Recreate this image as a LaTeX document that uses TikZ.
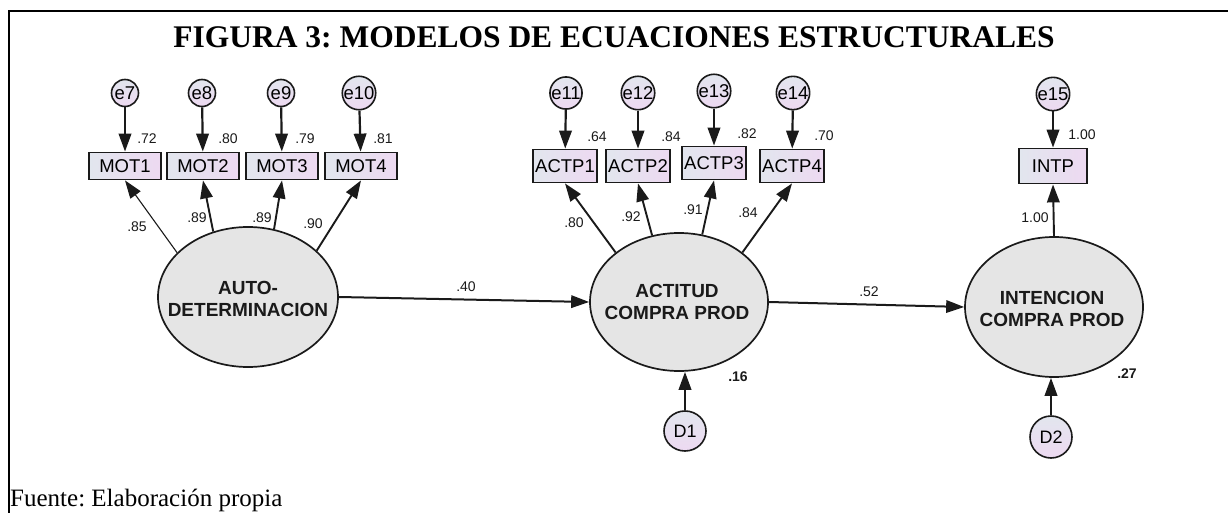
\documentclass[tikz,border=0pt]{standalone}
\usepackage{fontspec}
\setmainfont{Liberation Serif}
\setsansfont{Liberation Sans}
\usetikzlibrary{arrows.meta,shapes.geometric}
\frenchspacing
\definecolor{boxL}{HTML}{E2E6EE}
\definecolor{boxR}{HTML}{EDD9F1}
\definecolor{latC}{HTML}{E5E5E5}
\definecolor{ink}{HTML}{1A1A1A}
\tikzset{
  obs/.style={rectangle, draw=ink, line width=1.8pt, left color=boxL, right color=boxR,
    minimum width=72pt, minimum height=27pt, inner sep=0pt,
    font=\sffamily\fontsize{18.5}{18.5}\selectfont},
  aobs/.style={obs, minimum width=64pt, minimum height=33pt},
  err/.style={circle, draw=ink, line width=1.6pt, top color=boxL, bottom color=boxR,
    minimum size=27pt, inner sep=0pt, font=\sffamily\fontsize{18.5}{18.5}\selectfont},
  dist/.style={ellipse, draw=ink, line width=1.6pt, top color=boxL, bottom color=boxR,
    minimum width=42pt, minimum height=40pt, inner sep=0pt, font=\sffamily\fontsize{18}{18}\selectfont},
  lat/.style={ellipse, draw=ink, line width=1.7pt, fill=latC,
    minimum width=180pt, minimum height=140pt, inner sep=0pt},
  lattext/.style={inner sep=0pt, align=center, text=ink,
    font=\sffamily\bfseries\fontsize{19}{22}\selectfont},
  num/.style={inner sep=0pt, text=ink, font=\sffamily\fontsize{14}{14}\selectfont},
  bnum/.style={num, font=\sffamily\bfseries\fontsize{14}{14}\selectfont},
  tip/.style={-{Triangle[length=18pt,width=12.5pt]}},
  earrow/.style={tip, draw=ink, line width=2.2pt},
  load/.style={tip, draw=ink, line width=1.9pt},
  thinload/.style={tip, draw=ink, line width=1.1pt},
  path/.style={tip, draw=ink, line width=2pt},
}
\begin{document}
\begin{tikzpicture}[x=1pt,y=-1pt]
\useasboundingbox (0,0) rectangle (1228,513);
\draw[line width=2pt] (9,513) -- (9,11) -- (1228,11);
\node[anchor=base, font=\bfseries\fontsize{31.5}{31.5}\selectfont] (title) at (614,48) {FIGURA 3: MODELOS DE ECUACIONES ESTRUCTURALES};
\node[anchor=base west, inner sep=0pt, font=\fontsize{25}{25}\selectfont] (src) at (10,506) {Fuente: Elaboración propia};

% latent variables
\node[lat] (auto) at (248,297) {};
\node[lattext] (autoT) at (248,299) {AUTO-\\DETERMINACION};
\node[lat, minimum width=178pt, minimum height=138pt] (act) at (679,302) {};
\node[lattext] (actT) at (677,302) {ACTITUD\\COMPRA PROD};
\node[lat, minimum width=178pt, minimum height=140pt] (int) at (1054,307) {};
\node[lattext] (intT) at (1052,309) {INTENCION\\COMPRA PROD};

% observed
\node[obs] (mot1) at (125,166) {MOT1};
\node[obs] (mot2) at (203,166) {MOT2};
\node[obs] (mot3) at (282,166) {MOT3};
\node[obs] (mot4) at (361,166) {MOT4};
\node[aobs] (actp1) at (565,166) {ACTP1};
\node[aobs] (actp2) at (638,166) {ACTP2};
\node[aobs] (actp3) at (714,163) {ACTP3};
\node[aobs] (actp4) at (792,166) {ACTP4};
\node[obs, minimum width=68pt, minimum height=35pt] (intp) at (1053,166) {INTP};

% errors
\node[err] (e7) at (125,93) {e7};
\node[err] (e8) at (202,93) {e8};
\node[err] (e9) at (281,93) {e9};
\node[err] (e10) at (359,93) {e10};
\node[err] (e11) at (566,93) {e11};
\node[err] (e12) at (638,93) {e12};
\node[err] (e13) at (714,91) {e13};
\node[err] (e14) at (793,93) {e14};
\node[err] (e15) at (1053,94) {e15};
\node[dist] (d1) at (685,431) {D1};
\node[dist, minimum height=42pt] (d2) at (1051,437) {D2};

% error arrows
\foreach \e/\o in {e7/mot1,e8/mot2,e9/mot3,e10/mot4,e11/actp1,e12/actp2,e13/actp3,e14/actp4,e15/intp}
  \draw[earrow] (\e) -- (\o);

% loadings
\draw[thinload] (auto.148) -- (mot1.south);
\draw[load] (auto.118) -- (mot2.south);
\draw[load] (auto.69) -- (mot3.south);
\draw[load] (auto.34) -- (mot4.south);
\draw[load] (act.142) -- (actp1.south);
\draw[load] (act.112) -- (actp2.south);
\draw[load] (act.71) -- (actp3.south);
\draw[load] (act.38) -- (actp4.south);
\draw[load] (int.north) -- (intp.south);

% structural paths
\draw[path] (auto.east) -- (act.west);
\draw[path] (act.east) -- (int.west);
\draw[earrow] (d1.north) -- (d1.north |- act.south);
\draw[earrow] (d2.north) -- (d2.north |- int.south);

% numbers
\node[num] (r72) at (147,139) {.72};
\node[num] (r80) at (228,139) {.80};
\node[num] (r79) at (305,139) {.79};
\node[num] (r81) at (383,139) {.81};
\node[num] (l85) at (137,227) {.85};
\node[num] (l89a) at (197,218) {.89};
\node[num] (l89b) at (262,218) {.89};
\node[num] (l90) at (313,224) {.90};
\node[num] (r64) at (597,137) {.64};
\node[num] (r84) at (671,137) {.84};
\node[num] (r82) at (747,134) {.82};
\node[num] (r70) at (824,136) {.70};
\node[num] (l80) at (574,223) {.80};
\node[num] (l92) at (631,217) {.92};
\node[num] (l91) at (693,210) {.91};
\node[num] (l84) at (748,213) {.84};
\node[num] (r100) at (1082,135) {1.00};
\node[num] (l100) at (1035,218) {1.00};
\node[num] (p40) at (466,287) {.40};
\node[num] (p52) at (869,292) {.52};
\node[bnum] (s16) at (738,377) {.16};
\node[bnum] (s27) at (1127,374) {.27};
\end{tikzpicture}
\end{document}
